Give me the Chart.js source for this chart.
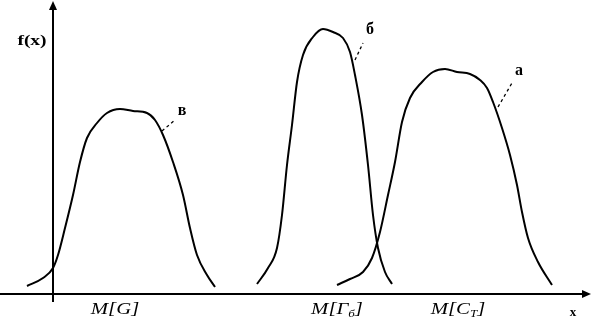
<!DOCTYPE html>
<html>
<head>
<meta charset="utf-8">
<script src="https://cdn.jsdelivr.net/npm/chart.js@4/dist/chart.umd.min.js"></script>
<style>
html,body{margin:0;padding:0;background:#fff;}
#wrap{width:592px;height:325px;}
</style>
</head>
<body>
<div id="wrap"><canvas id="c" width="592" height="325"></canvas></div>
<script>
// Curve "в" (distribution around M[G])
const curveVx = [-26,-10,0,5,12,20,27,34,44,54,67,80,94,102,110,120,130,137,144,154,162];
const curveVy = [8,16,26,39,66,99,132,156,171,181,185,183,181,174,159,132,99,66,39,19,7];
// Curve "б" (distribution around M[Γб])
const curveBx = [204,215,224,229,234,239,244,250,260,270,280,290,297,302,309,315,320,325,332,339];
const curveBy = [10,26,46,79,129,169,212,239,257,265,262,256,242,219,179,129,79,46,22,10];
// Curve "а" (distribution around M[C_T])
const curveAx = [284,297,310,319,327,335,342,349,357,369,380,392,404,417,427,434,440,449,457,464,469,475,485,499];
const curveAy = [9,15,22,36,62,99,132,172,196,212,222,225,222,220,214,206,192,166,139,109,82,56,32,9];
// x-axis category marks
const tickLabels = [
  [{t:"M[G]"}],
  [{t:"M[Γ"},{t:"б",sub:true},{t:"]"}],
  [{t:"M[C"},{t:"T",sub:true},{t:"]"}]
];
const tickValues = [62, 284, 405];
// curve labels and their leader lines
const curveNames = ["в","б","а"];
const leaderX = [[109,122],[302,310],[445,459]];
const leaderY = [[163,174],[234,251],[187,211]];
const nameX = [129,317,466];
const nameY = [183,264,223];

function pts(xs, ys){ return xs.map((x,i)=>({x:x, y:ys[i]})); }

const curveStyle = {borderColor:'#000', borderWidth:2, pointRadius:0, cubicInterpolationMode:'monotone', fill:false};
const leaderStyle = {borderColor:'#000', borderWidth:1.3, borderDash:[3,3], pointRadius:0, tension:0, fill:false};

const datasets = [
  Object.assign({data: pts(curveVx, curveVy)}, curveStyle),
  Object.assign({data: pts(curveBx, curveBy)}, curveStyle),
  Object.assign({data: pts(curveAx, curveAy)}, curveStyle)
];
leaderX.forEach((lx,i)=>{
  datasets.push(Object.assign({data: pts(lx, leaderY[i])}, leaderStyle));
});

const axesPlugin = {
  id:'axesPlugin',
  beforeDatasetsDraw(chart){
    const ctx = chart.ctx, xs = chart.scales.x, ys = chart.scales.y;
    const x0 = xs.getPixelForValue(0), y0 = ys.getPixelForValue(0);
    const xl = xs.getPixelForValue(xs.min), xr = xs.getPixelForValue(xs.max);
    const yt = ys.getPixelForValue(ys.max), yb = ys.getPixelForValue(-8);
    ctx.save();
    ctx.strokeStyle='#000'; ctx.fillStyle='#000'; ctx.lineWidth=2;
    // x axis
    ctx.beginPath(); ctx.moveTo(xl, y0); ctx.lineTo(xr-6, y0); ctx.stroke();
    ctx.beginPath(); ctx.moveTo(xr-1, y0); ctx.lineTo(xr-10, y0-4); ctx.lineTo(xr-10, y0+4); ctx.closePath(); ctx.fill();
    // y axis
    ctx.beginPath(); ctx.moveTo(x0, yb); ctx.lineTo(x0, yt+6); ctx.stroke();
    ctx.beginPath(); ctx.moveTo(x0, yt+1); ctx.lineTo(x0-4, yt+10); ctx.lineTo(x0+4, yt+10); ctx.closePath(); ctx.fill();
    ctx.restore();
  },
  afterDraw(chart){
    const ctx = chart.ctx, xs = chart.scales.x, ys = chart.scales.y;
    const x0 = xs.getPixelForValue(0), y0 = ys.getPixelForValue(0);
    ctx.save();
    ctx.fillStyle='#000';
    ctx.textBaseline='alphabetic';
    // tick labels
    const sx = 1.3;
    tickLabels.forEach((segs,i)=>{
      const main = "italic 16px 'Liberation Serif'", sub = "italic 10px 'Liberation Serif'";
      let w = 0;
      segs.forEach(s=>{ ctx.font = s.sub?sub:main; w += ctx.measureText(s.t).width; });
      const cx = xs.getPixelForValue(tickValues[i]);
      ctx.save();
      ctx.translate(cx, y0+20);
      ctx.scale(sx,1);
      let x = -w/2;
      segs.forEach(s=>{
        ctx.font = s.sub?sub:main;
        ctx.fillText(s.t, x, s.sub?3:0);
        x += ctx.measureText(s.t).width;
      });
      ctx.restore();
    });
    // x label
    ctx.font = "bold 13px 'Liberation Serif'";
    ctx.textAlign='center';
    ctx.fillText("x", xs.getPixelForValue(xs.max)-19, y0+22);
    // f(x) label
    ctx.save();
    ctx.translate(x0-21, ys.getPixelForValue(ys.max)+45);
    ctx.scale(1.3,1);
    ctx.font = "bold 15px 'Liberation Serif'";
    ctx.fillText("f(x)", 0, 0);
    ctx.restore();
    // curve names
    ctx.font = "bold 16px 'Liberation Serif'";
    ctx.textBaseline='middle';
    curveNames.forEach((n,i)=>{
      ctx.fillText(n, xs.getPixelForValue(nameX[i]), ys.getPixelForValue(nameY[i]));
    });
    ctx.restore();
  }
};

new Chart(document.getElementById('c'), {
  type:'line',
  data:{datasets},
  options:{
    responsive:false, animation:false, devicePixelRatio:1,
    layout:{padding:0},
    plugins:{legend:{display:false}, tooltip:{enabled:false}},
    scales:{
      x:{type:'linear', min:-53, max:539, display:false},
      y:{type:'linear', min:-31, max:294, display:false}
    }
  },
  plugins:[axesPlugin]
});
</script>
</body>
</html>
